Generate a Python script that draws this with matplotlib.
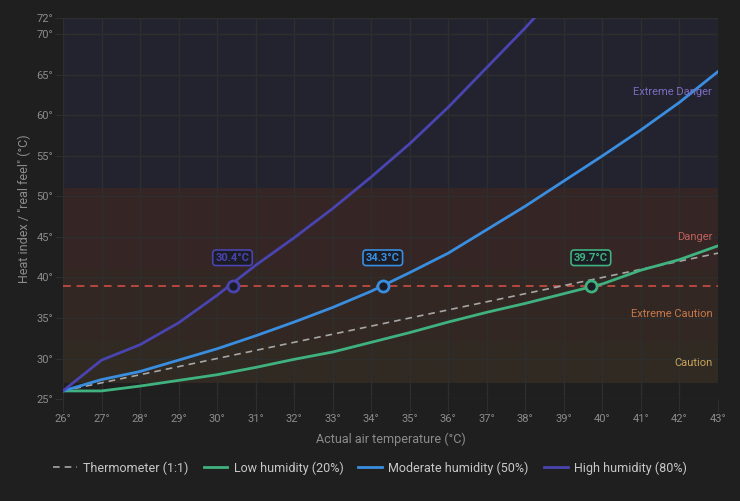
import numpy as np
import matplotlib.pyplot as plt

# air temperature (deg C) and heat index
temps = [26, 27, 28, 29, 30, 31, 32, 33, 34, 35, 36, 37, 38, 39, 40, 41, 42, 43]
low_hum = [26.0, 26.0, 26.6, 27.3, 28.0, 28.9, 29.9, 30.8, 32.0, 33.2, 34.5, 35.7, 36.8, 38.0, 39.2, 40.9, 42.2, 43.9]
mod_hum = [26.0, 27.4, 28.4, 29.8, 31.2, 32.8, 34.5, 36.3, 38.3, 40.6, 43.0, 45.9, 48.8, 51.9, 55.0, 58.2, 61.6, 65.4]
high_temps = [26, 27, 28, 29, 30, 31, 32, 33, 34, 35, 36, 37, 38, 39]
high_hum = [26.0, 29.8, 31.7, 34.4, 37.8, 41.5, 44.9, 48.5, 52.4, 56.5, 61.0, 65.9, 70.8, 76.0]

threshold = 39
cross_temps = [30.4, 34.3, 39.7]

# heat index bands: (low, high, label)
bands = [(27, 32, 'Caution'), (32, 41, 'Extreme Caution'), (41, 51, 'Danger'), (51, 72, 'Extreme Danger')]
band_fill = ['#302a22', '#322722', '#352525', '#23232f']
band_text = ['#c9a35c', '#c8784a', '#c0605c', '#7a6cc0']
band_label_y = [29.5, 35.5, 45.0, 62.9]

bg = '#1f1f1f'
grid_c = '#2e2e2e'
tick_c = '#8c8c8c'
c_low = '#3fb27f'
c_mod = '#3a8ee0'
c_high = '#4a44b0'
c_thermo = '#a6a6a6'

plt.rcParams['font.family'] = ['Roboto', 'DejaVu Sans']

fig = plt.figure(figsize=(7.4, 5.01), dpi=100, facecolor=bg)
ax = fig.add_axes([0.0851, 0.2035, 0.8852, 0.7605])
ax.set_facecolor(bg)

for (lo, hi, name), fc, tc, ly in zip(bands, band_fill, band_text, band_label_y):
    ax.axhspan(lo, hi, color=fc, lw=0, zorder=0)
    ax.text(42.85, ly, name, color=tc, fontsize=8, ha='right', va='center', zorder=6)

ax.set_xlim(26, 43)
ax.set_ylim(25, 72)
ax.set_xticks(temps)
ax.set_xticklabels([f'{t}°' for t in temps])
yt = [25, 30, 35, 40, 45, 50, 55, 60, 65, 70, 72]
ax.set_yticks(yt)
ax.set_yticklabels([f'{v}°' for v in yt])
ax.grid(True, color=grid_c, lw=1, zorder=1)
ax.set_axisbelow(False)
ax.tick_params(axis='x', colors=grid_c, labelcolor=tick_c, labelsize=8, length=9, pad=2)
ax.tick_params(axis='y', colors=grid_c, labelcolor=tick_c, labelsize=8, length=6, pad=1)
for s in ax.spines.values():
    s.set_visible(False)

ax.axhline(threshold, color='#b5483f', lw=1.4, ls=(0, (4, 3)), zorder=3)

ax.plot([temps[0], temps[-1]], [temps[0], temps[-1]], color=c_thermo, lw=1.2, ls=(0, (4, 3)),
        label='Thermometer (1:1)', zorder=4)
ax.plot(temps, low_hum, color=c_low, lw=2, label='Low humidity (20%)', zorder=5)
ax.plot(temps, mod_hum, color=c_mod, lw=2, label='Moderate humidity (50%)', zorder=5)
ax.plot(high_temps, high_hum, color=c_high, lw=2, label='High humidity (80%)', zorder=5)

for t, c in zip(cross_temps, [c_high, c_mod, c_low]):
    ax.plot(t, threshold, 'o', ms=8, mfc='#1c1c26', mec=c, mew=2, zorder=7)
    ax.annotate(f'{t}°C', (t, threshold), xytext=(0, 20), textcoords='offset points',
                ha='center', va='center', fontsize=8, fontweight='bold', color=c, zorder=8,
                bbox=dict(boxstyle='round,pad=0.25,rounding_size=0.3', fc='#1c1c24', ec=c, lw=1.2))

ax.set_xlabel('Actual air temperature (°C)', color=tick_c, fontsize=9, labelpad=6)
ax.set_ylabel('Heat index / "real feel" (°C)', color=tick_c, fontsize=9, labelpad=4)

leg = fig.legend(loc='center', bbox_to_anchor=(0.5, 0.066), ncol=4, frameon=False,
                 fontsize=9, handlelength=1.9, columnspacing=1.2, handletextpad=0.5)
for txt in leg.get_texts():
    txt.set_color('#c8c8c8')

fig.savefig('out.png', dpi=100, facecolor=bg)
